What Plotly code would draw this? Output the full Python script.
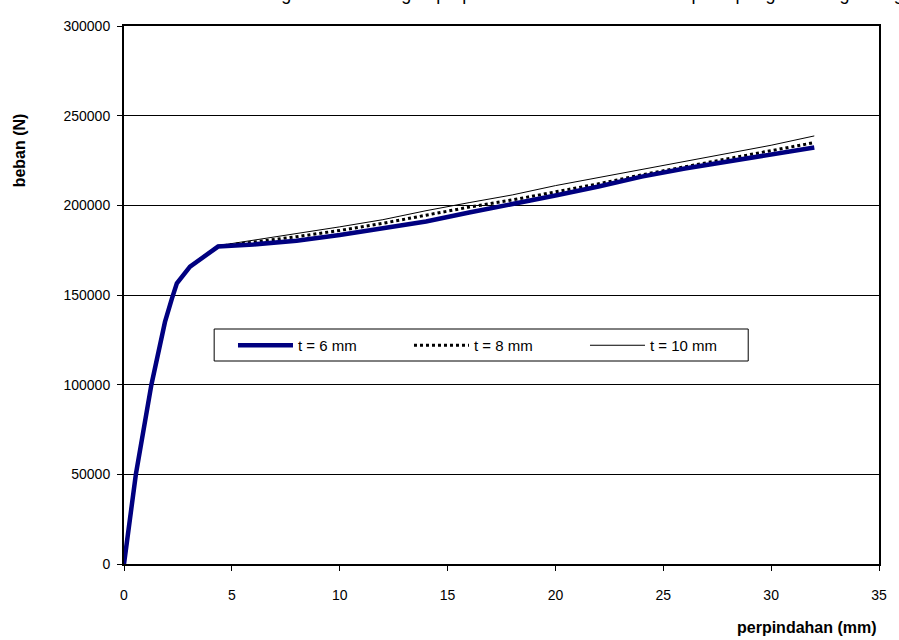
import plotly.graph_objects as go

# Data
x_common = [0, 0.55, 1.27, 1.9, 2.22, 2.45, 3.06, 3.83, 4.36, 6, 8, 10, 12, 14, 16, 18, 20, 22, 24, 26, 28, 30, 32]
t6 = [0, 50000, 100000, 135000, 148000, 156500, 165800, 172300, 177000, 178200, 180300, 183500,
      187000, 191000, 196000, 200500, 205500, 210500, 216000, 220500, 224500, 228500, 232300]
t8 = [0, 50000, 100000, 135000, 148000, 156500, 165800, 172300, 177200, 179500, 182500, 186000,
      190000, 194500, 199000, 203000, 207500, 212000, 217000, 221500, 226000, 230500, 235000]
t10 = [0, 50000, 100000, 135000, 148000, 156500, 165800, 172300, 177500, 180500, 184000, 188000,
       192000, 197000, 201500, 205800, 211000, 215500, 220000, 224500, 229000, 233500, 238700]

series_names = ["t = 6 mm", "t = 8 mm", "t = 10 mm"]
x_ticks = [0, 5, 10, 15, 20, 25, 30, 35]
y_ticks = [0, 50000, 100000, 150000, 200000, 250000, 300000]

FONT = "Liberation Sans, Arial, sans-serif"

fig = go.Figure()
fig.add_trace(go.Scatter(x=x_common, y=t10, mode="lines", name=series_names[2],
                         line=dict(color="black", width=1), legendrank=3))
fig.add_trace(go.Scatter(x=x_common, y=t8, mode="lines", name=series_names[1],
                         line=dict(color="black", width=3, dash="dot"), legendrank=2))
fig.add_trace(go.Scatter(x=x_common, y=t6, mode="lines", name=series_names[0],
                         line=dict(color="#000080", width=4.5), legendrank=1))

# legend frame (box drawn as a layout shape so the entries can sit inset like the original)
fig.add_shape(type="rect", xref="paper", yref="paper",
              x0=(215 - 124) / 762, x1=(754 - 124) / 762,
              y0=(564 - 361) / 538, y1=(564 - 329) / 538,
              line=dict(color="black", width=1), fillcolor="white", layer="above")

fig.update_layout(
    width=899, height=640,
    margin=dict(l=124, r=13, t=26, b=76),
    paper_bgcolor="white", plot_bgcolor="white",
    font=dict(family=FONT, size=14, color="black"),
    showlegend=True,
    legend=dict(orientation="h", x=(234 - 124) / 762, y=0.4368, xanchor="left", yanchor="top",
                borderwidth=0, bgcolor="rgba(0,0,0,0)",
                font=dict(family=FONT, size=15, color="black"),
                itemwidth=55, entrywidth=106, traceorder="normal"),
    xaxis=dict(range=[0, 35], tickvals=x_ticks, ticktext=[str(v) for v in x_ticks],
               showgrid=False, zeroline=False, showline=True, linecolor="black", linewidth=2,
               mirror=True, ticks="outside", ticklen=5, tickcolor="black", tickwidth=1,
               ticklabelstandoff=12, tickfont=dict(family=FONT, size=14)),
    yaxis=dict(range=[0, 300000], tickvals=y_ticks, ticktext=[str(v) for v in y_ticks],
               showgrid=True, gridcolor="black", gridwidth=1, zeroline=False,
               showline=True, linecolor="black", linewidth=2, mirror=True,
               ticks="outside", ticklen=5, tickcolor="black", tickwidth=1,
               ticklabelstandoff=4, tickfont=dict(family=FONT, size=14)),
    annotations=[
        dict(text="<b>perpindahan (mm)</b>", xref="paper", yref="paper",
             x=1.0, y=-0.118, xanchor="right", yanchor="middle", showarrow=False,
             font=dict(family=FONT, size=16, color="black")),
        dict(text="<b>beban (N)</b>", xref="paper", yref="paper",
             x=-0.139, y=0.769, xanchor="center", yanchor="middle", textangle=-90,
             showarrow=False, font=dict(family=FONT, size=16, color="black")),
        dict(text="Gambar 4.12 Kurva hubungan beban dengan perpindahan untuk variasi tebal pelat pengaku dengan tinggi",
             xref="paper", yref="paper", x=0.49, y=1.038, xanchor="center", yanchor="bottom",
             showarrow=False, font=dict(family=FONT, size=18, color="black")),
    ],
)

fig.write_html("out.html")
